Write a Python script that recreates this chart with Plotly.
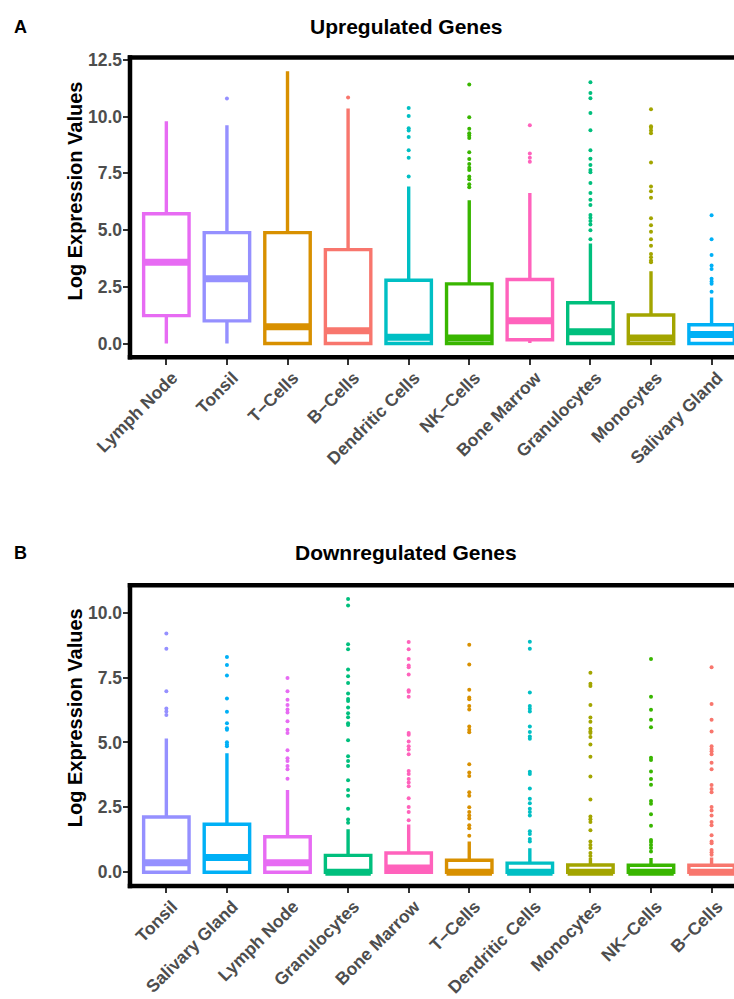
import plotly.graph_objects as go

# ---------------- Panel A : Upregulated genes ----------------
up_cats = ["Lymph Node", "Tonsil", "T\u2212Cells", "B\u2212Cells", "Dendritic Cells",
           "NK\u2212Cells", "Bone Marrow", "Granulocytes", "Monocytes", "Salivary Gland"]
up_lower = [0.0, 0.0, 0.0, 0.0, 0.0, 0.0, 0.03, 0.0, 0.0, 0.0]
up_q1 = [1.23, 1.0, 0.0, 0.0, 0.0, 0.0, 0.17, 0.0, 0.0, 0.0]
up_median = [3.58, 2.86, 0.74, 0.57, 0.28, 0.25, 1.0, 0.52, 0.25, 0.4]
up_q3 = [5.72, 4.89, 4.89, 4.14, 2.79, 2.63, 2.82, 1.8, 1.26, 0.83]
up_upper = [9.8, 9.62, 12.0, 10.36, 6.92, 6.31, 6.63, 4.41, 3.19, 2.03]
up_outliers = [
    [],
    [10.8],
    [],
    [10.84],
    [10.38, 10.03, 9.49, 9.39, 9.1, 8.52, 8.19, 7.36],
    [11.42, 9.97, 9.46, 9.27, 9.17, 9.06, 8.43, 8.13, 7.91, 7.75, 7.65, 7.36, 7.24, 7.02, 6.89],
    [9.62, 8.37, 8.19, 8.01],
    [11.51, 11.04, 10.81, 10.16, 9.4, 8.52, 8.14, 7.87, 7.65, 7.55, 7.07, 6.63, 6.34,
     6.11, 5.67, 5.54, 5.4, 5.25, 4.99, 4.6],
    [10.32, 9.58, 9.51, 9.39, 9.27, 7.98, 6.92, 6.71, 6.42, 5.52, 5.21, 4.93, 4.6,
     4.31, 3.95, 3.8, 3.66, 3.58],
    [5.65, 4.6, 3.9, 3.44, 3.29, 2.86, 2.74, 2.64, 2.28],
]

# ---------------- Panel B : Downregulated genes ----------------
down_cats = ["Tonsil", "Salivary Gland", "Lymph Node", "Granulocytes", "Bone Marrow",
             "T\u2212Cells", "Dendritic Cells", "Monocytes", "NK\u2212Cells", "B\u2212Cells"]
down_lower = [0.0] * 10
down_q1 = [0.0] * 10
down_median = [0.37, 0.57, 0.37, 0.0, 0.16, 0.0, 0.0, 0.0, 0.0, 0.0]
down_q3 = [2.13, 1.85, 1.37, 0.65, 0.74, 0.46, 0.35, 0.28, 0.27, 0.27]
down_upper = [5.15, 4.58, 3.17, 1.66, 1.84, 1.18, 0.92, 0.55, 0.55, 0.57]
down_outliers = [
    [9.2, 8.61, 6.97, 6.31, 6.19, 6.06],
    [8.29, 7.98, 7.58, 6.69, 6.18, 5.74, 5.55, 5.49, 5.01, 4.92, 4.85],
    [7.48, 6.97, 6.64, 6.44, 6.27, 6.15, 5.82, 5.49, 5.36, 4.7, 4.39, 4.28, 4.09, 3.97, 3.6],
    [10.52, 10.27, 8.78, 8.59, 7.81, 7.55, 7.29, 6.88, 6.67, 6.6, 6.35, 6.12, 5.97, 5.74,
     5.67, 5.08, 4.47, 4.28, 4.09, 3.54, 3.17, 2.95, 2.45, 2.03, 1.91],
    [8.87, 8.59, 8.21, 7.96, 7.9, 7.62, 7.01, 6.95, 6.76, 5.36, 5.3, 5.04, 4.85, 4.73, 4.54,
     3.9, 3.78, 3.59, 3.46, 3.31, 2.85, 2.51, 2.32, 2.0],
    [8.76, 8.0, 7.03, 6.73, 6.66, 6.4, 6.27, 5.61, 5.49, 5.39, 4.16, 3.84, 3.71, 3.08, 2.95,
     2.5, 2.32, 2.19, 2.07, 1.81, 1.69, 1.41],
    [8.88, 8.61, 6.92, 6.4, 6.3, 6.19, 5.61, 5.4, 5.23, 5.14, 3.87, 3.78, 3.23, 2.83, 2.66,
     2.45, 2.32, 2.19, 1.58, 1.47, 1.28, 1.18],
    [7.68, 7.26, 7.17, 6.44, 5.96, 5.8, 5.53, 5.42, 5.36, 5.21, 4.92, 4.45, 3.69, 2.8, 2.15,
     2.04, 1.94, 1.62, 1.18, 1.05, 0.93, 0.74, 0.63],
    [8.21, 6.76, 6.26, 5.87, 5.58, 4.41, 4.32, 3.88, 3.59, 3.37, 2.74, 2.64, 2.23, 1.79,
     1.24, 1.17, 1.05, 0.93, 0.8],
    [7.9, 6.48, 5.87, 5.42, 4.85, 4.75, 4.66, 4.54, 4.22, 3.97, 3.36, 3.21, 3.08, 2.51, 2.38,
     2.19, 1.94, 1.81, 1.43, 1.18, 1.12, 0.86, 0.77, 0.67],
]

y_ticks = [0.0, 2.5, 5.0, 7.5, 10.0, 12.5]
y_ticks_b = [0.0, 2.5, 5.0, 7.5, 10.0]

colors = {
    "B\u2212Cells": "#F8766D",
    "T\u2212Cells": "#D89000",
    "Monocytes": "#A3A500",
    "NK\u2212Cells": "#39B600",
    "Granulocytes": "#00BF7D",
    "Dendritic Cells": "#00BFC4",
    "Salivary Gland": "#00B0F6",
    "Tonsil": "#9590FF",
    "Lymph Node": "#E76BF3",
    "Bone Marrow": "#FF62BC",
}

FONT = "Liberation Sans, Arial, Helvetica, sans-serif"
W, H = 734, 999
ML = 130
PW = W - ML
BOX_W = 0.75
BORDER = 4.5

fig = go.Figure()


def add_panel(cats, lower, q1, med, q3, upper, outliers, xa, ya):
    for i, c in enumerate(cats):
        pos = i + 1
        col = colors[c]
        fig.add_trace(go.Box(
            x=[pos], q1=[q1[i]], median=[med[i]], q3=[q3[i]],
            lowerfence=[lower[i]], upperfence=[upper[i]],
            width=BOX_W, whiskerwidth=0, fillcolor="white",
            line=dict(color=col, width=3.4), boxpoints=False,
            xaxis=xa, yaxis=ya, hoverinfo="skip"))
    for i, c in enumerate(cats):
        pos = i + 1
        col = colors[c]
        fig.add_trace(go.Scatter(
            x=[pos - BOX_W / 2, pos + BOX_W / 2], y=[med[i], med[i]],
            mode="lines", line=dict(color=col, width=7),
            xaxis=xa, yaxis=ya, hoverinfo="skip"))
        if outliers[i]:
            fig.add_trace(go.Scatter(
                x=[pos] * len(outliers[i]), y=outliers[i], mode="markers",
                marker=dict(color=col, size=4, line=dict(width=0)),
                xaxis=xa, yaxis=ya, hoverinfo="skip"))


add_panel(up_cats, up_lower, up_q1, up_median, up_q3, up_upper, up_outliers, "x", "y")
add_panel(down_cats, down_lower, down_q1, down_median, down_q3, down_upper, down_outliers, "x2", "y2")


def px_x(p):
    return (p - ML) / PW


def px_y(p):
    return 1 - p / H


A_TOP, A_BOT = 50, 352
B_TOP, B_BOT = 582, 885

tickfont = dict(family=FONT, size=17.5, color="#4D4D4D", weight="bold")
common_x = dict(range=[0.4, 10.37], showgrid=False, zeroline=False, showline=False,
                ticks="outside", ticklen=6.5, tickwidth=1.6, tickcolor="#333333",
                tickangle=-45, tickfont=tickfont, tickvals=list(range(1, 11)),
                ticklabelshift=6, ticklabelstandoff=-4)
common_y = dict(showgrid=False, zeroline=False, showline=False, ticks="outside",
                ticklen=6.5, tickwidth=1.6, tickcolor="#333333", tickfont=tickfont,
                ticklabelstandoff=-3)

fig.update_layout(
    width=W, height=H,
    margin=dict(l=ML, r=0, t=0, b=0),
    paper_bgcolor="white", plot_bgcolor="white",
    showlegend=False,
    xaxis=dict(common_x, ticktext=up_cats, anchor="y", domain=[0, 1]),
    yaxis=dict(common_y, range=[-0.6, 12.6], tickvals=y_ticks,
               ticktext=[f"{v:.1f}" for v in y_ticks], anchor="x",
               domain=[px_y(A_BOT), px_y(A_TOP)]),
    xaxis2=dict(common_x, ticktext=down_cats, anchor="y2", domain=[0, 1]),
    yaxis2=dict(common_y, range=[-0.526, 11.05], tickvals=y_ticks_b,
                ticktext=[f"{v:.1f}" for v in y_ticks_b], anchor="x2",
                domain=[px_y(B_BOT), px_y(B_TOP)]),
)

# panel borders (left, top, bottom), centred on the panel edges
shapes = []
for xa, ya, top, bot in (("x", "y", A_TOP, A_BOT), ("x2", "y2", B_TOP, B_BOT)):
    ph = bot - top
    ext_x = (BORDER / 2) / PW
    ext_y = (BORDER / 2) / ph
    ln = dict(color="black", width=BORDER)
    shapes.append(dict(type="line", xref=f"{xa} domain", yref=f"{ya} domain",
                       x0=-ext_x, x1=1.0, y0=1, y1=1, line=ln, layer="above"))
    shapes.append(dict(type="line", xref=f"{xa} domain", yref=f"{ya} domain",
                       x0=-ext_x, x1=1.0, y0=0, y1=0, line=ln, layer="above"))
    shapes.append(dict(type="line", xref=f"{xa} domain", yref=f"{ya} domain",
                       x0=0, x1=0, y0=-ext_y, y1=1 + ext_y, line=ln, layer="above"))
fig.update_layout(shapes=shapes)

ann_font_title = dict(family=FONT, size=21, color="black", weight="bold")
ann_font_lab = dict(family=FONT, size=18, color="black", weight="bold")
ann_font_ytitle = dict(family=FONT, size=20, color="black", weight="bold")

annotations = [
    dict(text="A", x=px_x(20), y=px_y(19), font=ann_font_lab),
    dict(text="Upregulated Genes", x=px_x(406), y=px_y(19), font=ann_font_title),
    dict(text="Log Expression Values", x=px_x(75), y=px_y(185), textangle=-90,
         font=ann_font_ytitle),
    dict(text="B", x=px_x(20), y=px_y(549), font=ann_font_lab),
    dict(text="Downregulated Genes", x=px_x(406), y=px_y(549), font=ann_font_title),
    dict(text="Log Expression Values", x=px_x(75), y=px_y(716), textangle=-90,
         font=ann_font_ytitle),
]
for a in annotations:
    a.update(xref="paper", yref="paper", xanchor="center", yanchor="middle",
             showarrow=False)
fig.update_layout(annotations=annotations)

fig.write_html("out.html", config={"displayModeBar": False},
               post_script="document.body.style.margin='0px';")
